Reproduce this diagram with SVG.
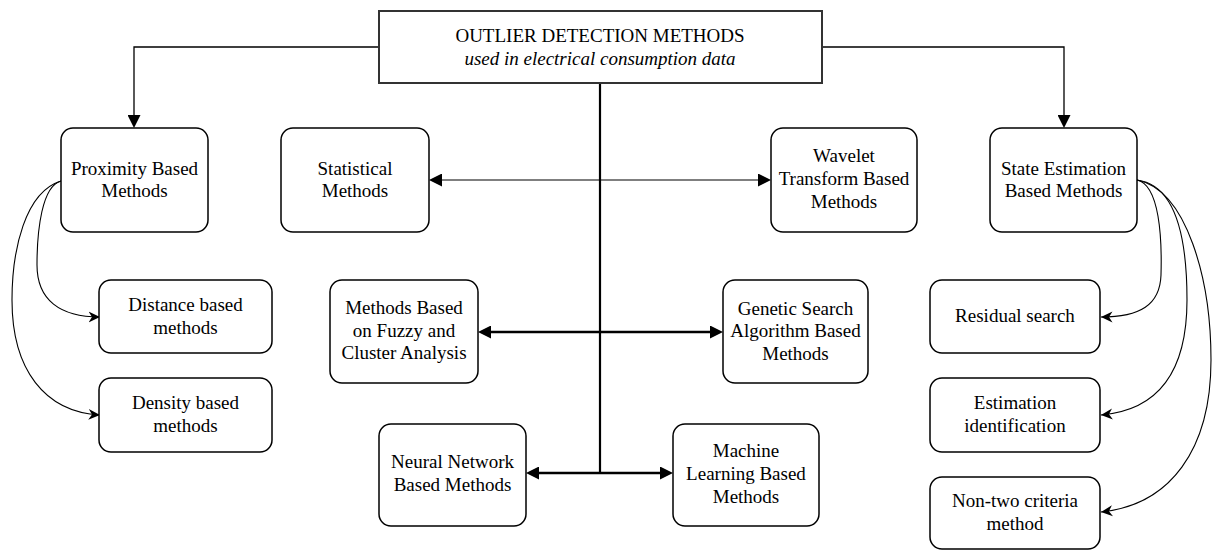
<svg xmlns="http://www.w3.org/2000/svg" width="1213" height="551" viewBox="0 0 1213 551">
<defs>
<style>
.box{fill:#fff;stroke:#000;stroke-width:1.5}
.t{font-family:"Liberation Serif","Times New Roman",serif;font-size:19px;fill:#000;text-anchor:middle}
.it{font-style:italic}
.c{fill:none;stroke:#000}
</style>
<marker id="tri" viewBox="0 0 13 13" refX="0" refY="6.5" markerWidth="13" markerHeight="13" markerUnits="userSpaceOnUse" orient="auto-start-reverse">
<path d="M0,0 L13,6.5 L0,13 z" fill="#000"/>
</marker>
<marker id="st" viewBox="0 0 12 12" refX="11.5" refY="6" markerWidth="12" markerHeight="12" markerUnits="userSpaceOnUse" orient="auto">
<path d="M0,0.5 L11.5,6 L0,11.5 L3.5,6 z" fill="#000"/>
</marker>
</defs>
<rect width="1213" height="551" fill="#fff"/>
<g id="connectors">
<path class="c" stroke-width="1.3" d="M379,47 H134 V115" marker-end="url(#tri)"/>
<path class="c" stroke-width="1.3" d="M822,47 H1064 V115" marker-end="url(#tri)"/>
<path class="c" stroke-width="2.2" d="M600,83 V473"/>
<path class="c" stroke-width="1.2" d="M442,180 H758" marker-start="url(#tri)" marker-end="url(#tri)"/>
<path class="c" stroke-width="2.5" d="M491,332 H710" marker-start="url(#tri)" marker-end="url(#tri)"/>
<path class="c" stroke-width="2.5" d="M539,473 H660" marker-start="url(#tri)" marker-end="url(#tri)"/>
<path class="c" stroke-width="1.1" d="M61,181 C42,186 37,230 37,265 C37,300 60,317 100,317" marker-end="url(#st)"/>
<path class="c" stroke-width="1.1" d="M61,181 C25,192 12,250 12,300 C12,370 45,412 100,415" marker-end="url(#st)"/>
<path class="c" stroke-width="1.1" d="M1137,180 C1160,185 1162,240 1161,275 C1160,305 1140,317 1101,317" marker-end="url(#st)"/>
<path class="c" stroke-width="1.1" d="M1137,180 C1177,185 1187,240 1187,300 C1187,370 1160,410 1101,415" marker-end="url(#st)"/>
<path class="c" stroke-width="1.1" d="M1137,180 C1187,190 1211,280 1211,360 C1211,450 1170,505 1101,512" marker-end="url(#st)"/>
</g>
<g id="title">
<rect x="379" y="11" width="443" height="72" fill="#fff" stroke="#333" stroke-width="2"/>
<text class="t" x="600" y="42">OUTLIER DETECTION METHODS</text>
<text class="t it" x="600" y="65">used in electrical consumption data</text>
</g>
<g id="proximity">
<rect class="box" x="61" y="128" width="147" height="104" rx="12"/>
<text class="t" x="134.5" y="175">Proximity Based</text>
<text class="t" x="134.5" y="197">Methods</text>
</g>
<g id="statistical">
<rect class="box" x="281" y="128" width="148" height="104" rx="12"/>
<text class="t" x="355" y="175">Statistical</text>
<text class="t" x="355" y="197">Methods</text>
</g>
<g id="wavelet">
<rect class="box" x="771" y="128" width="146" height="104" rx="12"/>
<text class="t" x="844" y="162">Wavelet</text>
<text class="t" x="844" y="185">Transform Based</text>
<text class="t" x="844" y="208">Methods</text>
</g>
<g id="state">
<rect class="box" x="990" y="128" width="147" height="104" rx="12"/>
<text class="t" x="1063.5" y="175">State Estimation</text>
<text class="t" x="1063.5" y="197">Based Methods</text>
</g>
<g id="distance">
<rect class="box" x="99" y="280" width="173" height="73" rx="12"/>
<text class="t" x="185.5" y="311">Distance based</text>
<text class="t" x="185.5" y="334">methods</text>
</g>
<g id="density">
<rect class="box" x="99" y="378" width="173" height="74" rx="12"/>
<text class="t" x="185.5" y="409">Density based</text>
<text class="t" x="185.5" y="432">methods</text>
</g>
<g id="fuzzy">
<rect class="box" x="330" y="280" width="148" height="103" rx="12"/>
<text class="t" x="404" y="314">Methods Based</text>
<text class="t" x="404" y="337">on Fuzzy and</text>
<text class="t" x="404" y="359">Cluster Analysis</text>
</g>
<g id="genetic">
<rect class="box" x="723" y="280" width="145" height="103" rx="12"/>
<text class="t" x="795.5" y="315">Genetic Search</text>
<text class="t" x="795.5" y="337">Algorithm Based</text>
<text class="t" x="795.5" y="360">Methods</text>
</g>
<g id="neural">
<rect class="box" x="379" y="424" width="147" height="102" rx="12"/>
<text class="t" x="452.5" y="468">Neural Network</text>
<text class="t" x="452.5" y="491">Based Methods</text>
</g>
<g id="ml">
<rect class="box" x="673" y="424" width="146" height="102" rx="12"/>
<text class="t" x="746" y="457">Machine</text>
<text class="t" x="746" y="480">Learning Based</text>
<text class="t" x="746" y="503">Methods</text>
</g>
<g id="residual">
<rect class="box" x="930" y="280" width="170" height="73" rx="12"/>
<text class="t" x="1015" y="322">Residual search</text>
</g>
<g id="estimation">
<rect class="box" x="930" y="378" width="170" height="74" rx="12"/>
<text class="t" x="1015" y="409">Estimation</text>
<text class="t" x="1015" y="432">identification</text>
</g>
<g id="nontwo">
<rect class="box" x="930" y="477" width="170" height="72" rx="12"/>
<text class="t" x="1015" y="507">Non-two criteria</text>
<text class="t" x="1015" y="530">method</text>
</g>
</svg>
